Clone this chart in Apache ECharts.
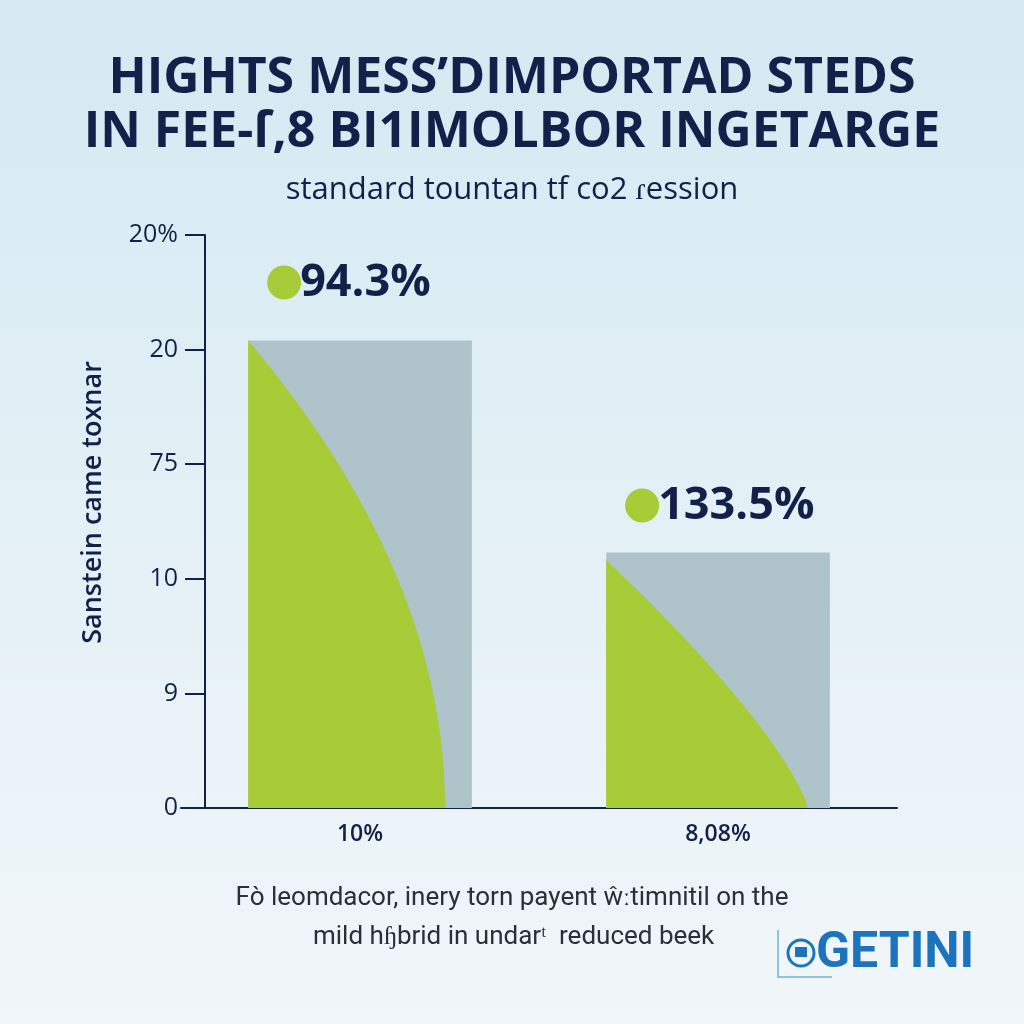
<!DOCTYPE html>
<html>
<head>
<meta charset="utf-8">
<script src="https://cdn.jsdelivr.net/npm/echarts@6/dist/echarts.min.js"></script>
<style>
html,body{margin:0;padding:0;width:1024px;height:1024px;overflow:hidden;}
#chart{width:1024px;height:1024px;}
</style>
</head>
<body>
<div id="chart"></div>
<script>
// ---- data ----
var titleLines = ["HIGHTS MESS\u2019DIMPORTAD STEDS", "IN FEE-\u017F,8 BI1IMOLBOR INGETARGE"];
var subtitle = "standard tountan tf co2 \u027Eession";
var yAxisName = "Sanstein came toxnar";
var categories = ["10%", "8,08%"];
var barValues = [4.08, 2.23];
var barLabels = ["94.3%", "133.5%"];
var yTickLabels = ["0", "9", "10", "75", "20", "20%"];
var footnoteLines = ["Fo\u0300 leomdacor, inery torn payent \u0175\u02D0timnitil on the", "mild h\u0267brid in undar\u1D57  reduced beek"];
var logoText = "GETINI";

// ---- styles ----
var NAVY = "#13214a";
var GREEN = "#a8cc37";
var GRAY = "#afc3cb";
var curveStyle = [
  {start: 1.0, reach: 0.88, power: 2.0, labelGap: 58},
  {start: 0.97, reach: 0.90, power: 1.3, labelGap: 47}
];

var chart = echarts.init(document.getElementById('chart'));

var option = {
  backgroundColor: new echarts.graphic.LinearGradient(0, 0, 0, 1, [
    {offset: 0, color: '#d4e9f2'},
    {offset: 0.5, color: '#e3f0f6'},
    {offset: 1, color: '#f1f6f9'}
  ]),
  title: [
    {text: titleLines[0], left: 'center', top: 49,
     textStyle: {fontFamily: 'Open Sans', fontWeight: 'bold', fontSize: 50, color: NAVY}},
    {text: titleLines[1], left: 'center', top: 103,
     textStyle: {fontFamily: 'Open Sans', fontWeight: 'bold', fontSize: 50, color: NAVY}},
    {text: subtitle, left: 'center', top: 170,
     textStyle: {fontFamily: 'Open Sans', fontWeight: 'normal', fontSize: 31, color: NAVY}}
  ],
  grid: {left: 181, right: 127, top: 235, bottom: 216, containLabel: false},
  xAxis: {
    type: 'category',
    data: categories,
    axisLine: {lineStyle: {color: NAVY, width: 2}},
    axisTick: {show: false},
    axisLabel: {color: NAVY, fontSize: 23, fontFamily: 'Open Sans', fontWeight: 600, margin: 15}
  },
  yAxis: {
    type: 'value',
    min: 0, max: 5, interval: 1,
    offset: -24,
    name: yAxisName,
    nameLocation: 'middle',
    nameGap: 98,
    nameRotate: 90,
    nameTextStyle: {color: NAVY, fontSize: 27, fontFamily: 'Open Sans', fontWeight: 600, padding: [0, 0, 0, 38]},
    axisLine: {show: true, lineStyle: {color: NAVY, width: 2}},
    axisTick: {show: true, length: 20, lineStyle: {color: NAVY, width: 2}},
    splitLine: {show: false},
    axisLabel: {
      color: NAVY, fontSize: 25, fontFamily: 'Open Sans', margin: 27,
      formatter: function (v) { return yTickLabels[Math.round(v)]; }
    }
  },
  series: [{
    type: 'custom',
    data: barValues.map(function (v, i) { return [i, v]; }),
    encode: {x: 0, y: 1},
    renderItem: function (params, api) {
      var idx = api.value(0), val = api.value(1);
      var top = api.coord([idx, val]);
      var base = api.coord([idx, 0]);
      var band = api.size([1, 0])[0];
      var w = band * 0.625;
      var x0 = top[0] - w / 2;
      var h = base[1] - top[1];
      var s = curveStyle[params.dataIndex];
      var pts = [[x0, base[1]]];
      var n = 60;
      for (var k = 0; k <= n; k++) {
        var v = 1 - k / n;
        var u = s.reach * (1 - Math.pow(v, s.power));
        pts.push([x0 + u * w, base[1] - v * h * s.start]);
      }
      var ly = top[1] - s.labelGap;
      return {
        type: 'group',
        children: [
          {type: 'rect', shape: {x: x0, y: top[1], width: w, height: h}, style: {fill: GRAY}},
          {type: 'polygon', shape: {points: pts}, style: {fill: GREEN}},
          {type: 'circle', shape: {cx: x0 + 36, cy: ly, r: 17}, style: {fill: GREEN}},
          {type: 'text', x: x0 + 52, y: ly + 1,
           style: {text: barLabels[params.dataIndex], fill: NAVY, fontSize: 45, fontWeight: 'bold',
                   fontFamily: 'Open Sans', textAlign: 'left', textVerticalAlign: 'middle'}}
        ]
      };
    }
  }],
  graphic: [
    {type: 'text', left: 'center', top: 885, style: {text: footnoteLines[0], fill: '#2b2f36', fontSize: 26, fontFamily: 'Roboto'}},
    {type: 'text', left: 313, top: 924, style: {text: footnoteLines[1], fill: '#2b2f36', fontSize: 26, fontFamily: 'Roboto'}},
    {type: 'polyline', shape: {points: [[778, 930], [778, 977], [832, 977]]}, style: {stroke: '#8ec3dd', lineWidth: 2, fill: null}},
    {type: 'circle', shape: {cx: 801, cy: 953, r: 13}, style: {stroke: '#1b74bd', lineWidth: 3, fill: 'none'}},
    {type: 'rect', shape: {x: 795, y: 947, width: 12, height: 10}, style: {fill: '#1b74bd'}},
    {type: 'text', left: 816, top: 929, style: {text: logoText, fill: '#1b74bd', fontSize: 50, fontWeight: 'bold', fontFamily: 'Roboto'}},
    {type: 'text', left: 963, top: 936, style: {text: '\u2122', fill: '#1b74bd', fontSize: 10, fontFamily: 'Roboto'}}
  ]
};
chart.setOption(option);
</script>
</body>
</html>
